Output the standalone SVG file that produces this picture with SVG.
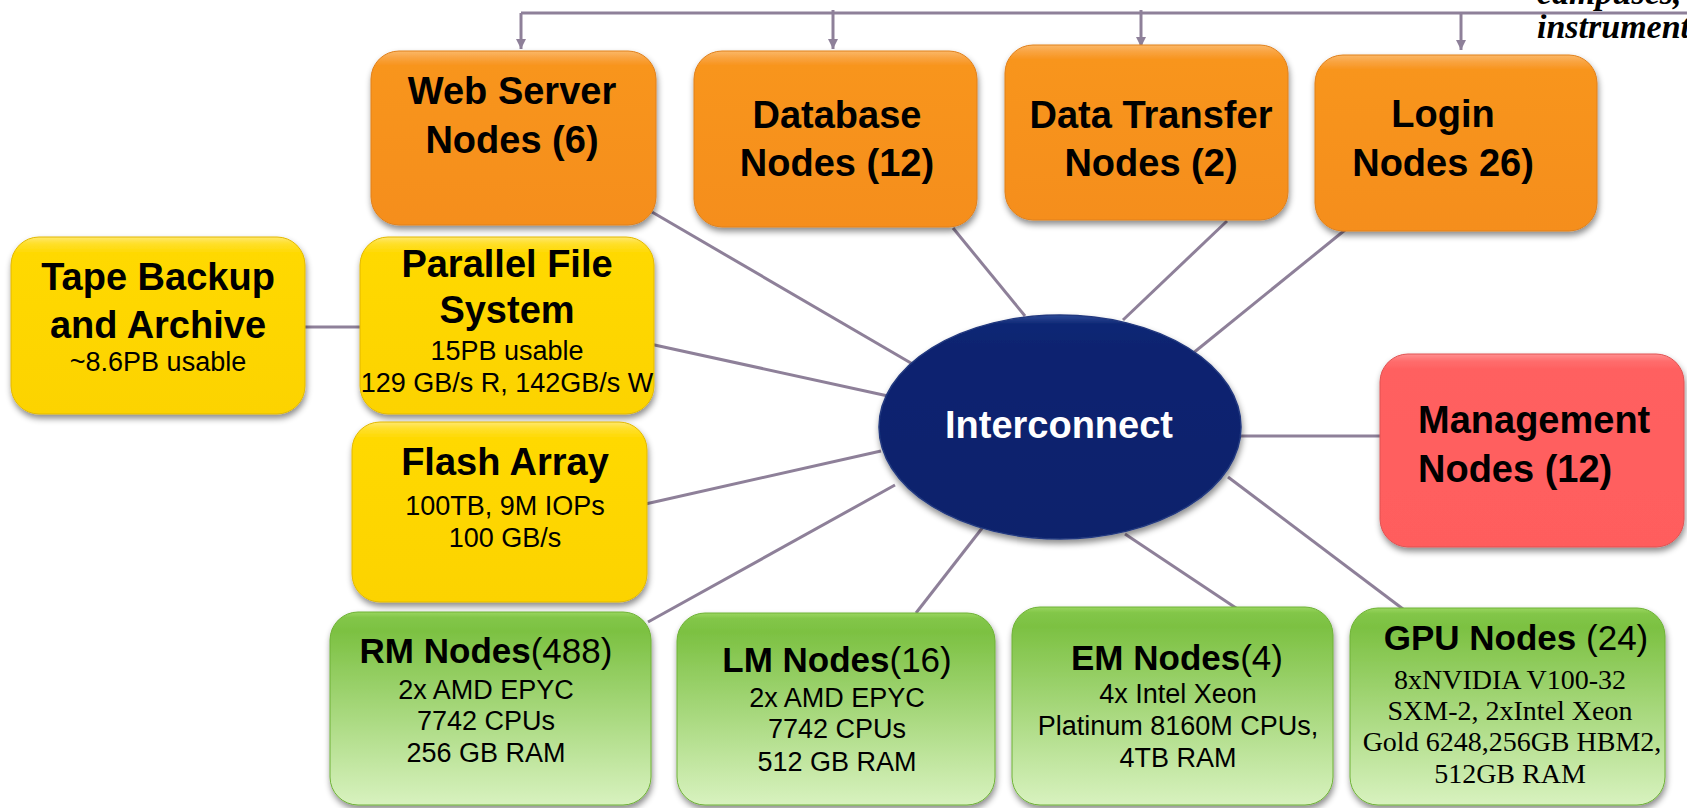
<svg xmlns="http://www.w3.org/2000/svg" width="1687" height="808" viewBox="0 0 1687 808">
  <defs>
    <style>
      .conn { stroke: #8e8099; stroke-width: 3; fill: none; }
      .hd { font-family: "Liberation Sans", Arial, sans-serif; font-weight: bold; font-size: 38px; fill: #000; text-anchor: middle; }
      .sub { font-family: "Liberation Sans", Arial, sans-serif; font-size: 27px; fill: #000; text-anchor: middle; }
      .hd2 { font-family: "Liberation Sans", Arial, sans-serif; font-size: 35px; fill: #000; text-anchor: middle; }
      .hd2 .b { font-weight: bold; }
      .serif { font-family: "Liberation Serif", "Times New Roman", serif; font-size: 28px; fill: #000; text-anchor: middle; }
      .note { font-family: "Liberation Serif", "Times New Roman", serif; font-size: 34px; font-weight: bold; font-style: italic; fill: #000; }
      .orange { fill: url(#gOrange); stroke: #e0801a; stroke-width: 1; }
      .yellow { fill: url(#gYellow); stroke: #e2b800; stroke-width: 1; }
      .red { fill: url(#gRed); stroke: #e05252; stroke-width: 1; }
      .green { fill: url(#gGreen); stroke: #6eb236; stroke-width: 1; }
      .box { filter: url(#shadow); }
    </style>
    <linearGradient id="gOrange" x1="0" y1="0" x2="0" y2="1">
      <stop offset="0" stop-color="#fbb868"/>
      <stop offset="0.035" stop-color="#f9a544"/>
      <stop offset="0.08" stop-color="#f8951f"/>
      <stop offset="1" stop-color="#f58e1c"/>
    </linearGradient>
    <linearGradient id="gYellow" x1="0" y1="0" x2="0" y2="1">
      <stop offset="0" stop-color="#ffe870"/>
      <stop offset="0.035" stop-color="#ffe02e"/>
      <stop offset="0.09" stop-color="#ffd900"/>
      <stop offset="1" stop-color="#fcd300"/>
    </linearGradient>
    <linearGradient id="gRed" x1="0" y1="0" x2="0" y2="1">
      <stop offset="0" stop-color="#ff9090"/>
      <stop offset="0.035" stop-color="#ff6e6e"/>
      <stop offset="0.08" stop-color="#ff6060"/>
      <stop offset="1" stop-color="#ff5d5d"/>
    </linearGradient>
    <linearGradient id="gGreen" x1="0" y1="0" x2="0" y2="1">
      <stop offset="0" stop-color="#9ad660"/>
      <stop offset="0.03" stop-color="#82c648"/>
      <stop offset="0.1" stop-color="#7cc142"/>
      <stop offset="1" stop-color="#d8f2bf"/>
    </linearGradient>
    <linearGradient id="gNavy" x1="0" y1="0" x2="0" y2="1">
      <stop offset="0" stop-color="#2c4a98"/>
      <stop offset="0.04" stop-color="#0f2875"/>
      <stop offset="0.15" stop-color="#0b2370"/>
      <stop offset="1" stop-color="#0b226c"/>
    </linearGradient>
    <filter id="shadow" x="-10%" y="-10%" width="125%" height="130%">
      <feDropShadow dx="1" dy="4" stdDeviation="3" flood-color="#000" flood-opacity="0.45"/>
    </filter>
    <marker id="arrow" viewBox="0 0 10 10" refX="10" refY="5" markerWidth="10" markerHeight="10" markerUnits="userSpaceOnUse" orient="auto">
      <path d="M0,0 L10,5 L0,10 Z" fill="#8e8099"/>
    </marker>
  </defs>

  <rect width="1687" height="808" fill="#ffffff"/>

  <!-- annotation in the top-right corner, running off the page edge -->
  <g id="note">
    <text class="note" x="1537" y="4">campuses,</text>
    <text class="note" x="1537" y="38">instruments</text>
  </g>

  <!-- connectors -->
  <g id="connectors">
    <!-- feed bus along the top -->
    <line class="conn" x1="521" y1="13" x2="1687" y2="13"/>
    <line class="conn" x1="521" y1="13" x2="521" y2="49" marker-end="url(#arrow)"/>
    <line class="conn" x1="833" y1="10" x2="833" y2="49" marker-end="url(#arrow)"/>
    <line class="conn" x1="1141" y1="10" x2="1141" y2="47" marker-end="url(#arrow)"/>
    <line class="conn" x1="1461" y1="13" x2="1461" y2="50" marker-end="url(#arrow)"/>
    <!-- links to the interconnect -->
    <line class="conn" x1="652" y1="212" x2="916" y2="366"/>
    <line class="conn" x1="953" y1="228" x2="1025" y2="316"/>
    <line class="conn" x1="1227" y1="221" x2="1123" y2="320"/>
    <line class="conn" x1="1345" y1="230" x2="1192" y2="354"/>
    <line class="conn" x1="650" y1="344" x2="888" y2="396"/>
    <line class="conn" x1="297" y1="327" x2="361" y2="327"/>
    <line class="conn" x1="641" y1="505" x2="881" y2="451"/>
    <line class="conn" x1="648" y1="622" x2="895" y2="485"/>
    <line class="conn" x1="916" y1="613" x2="983" y2="527"/>
    <line class="conn" x1="1239" y1="610" x2="1125" y2="534"/>
    <line class="conn" x1="1403" y1="609" x2="1228" y2="477"/>
    <line class="conn" x1="1235" y1="436" x2="1381" y2="436"/>
  </g>

  <!-- service nodes -->
  <g id="web-server">
    <rect class="box orange" x="371" y="51" width="285" height="174" rx="28"/>
    <text class="hd" x="512" y="104">Web Server</text>
    <text class="hd" x="512" y="153">Nodes (6)</text>
  </g>
  <g id="database">
    <rect class="box orange" x="694" y="51" width="283" height="176" rx="28"/>
    <text class="hd" x="837" y="128">Database</text>
    <text class="hd" x="837" y="176">Nodes (12)</text>
  </g>
  <g id="data-transfer">
    <rect class="box orange" x="1005" y="45" width="283" height="175" rx="28"/>
    <text class="hd" x="1151" y="128">Data Transfer</text>
    <text class="hd" x="1151" y="176">Nodes (2)</text>
  </g>
  <g id="login">
    <rect class="box orange" x="1315" y="55" width="282" height="176" rx="28"/>
    <text class="hd" x="1443" y="127">Login</text>
    <text class="hd" x="1443" y="176">Nodes 26)</text>
  </g>

  <!-- storage -->
  <g id="tape-backup">
    <rect class="box yellow" x="11" y="237" width="294" height="177" rx="28"/>
    <text class="hd" x="158" y="290">Tape Backup</text>
    <text class="hd" x="158" y="338">and Archive</text>
    <text class="sub" x="158" y="371">~8.6PB usable</text>
  </g>
  <g id="parallel-fs">
    <rect class="box yellow" x="360" y="237" width="294" height="177" rx="28"/>
    <text class="hd" x="507" y="277">Parallel File</text>
    <text class="hd" x="507" y="323">System</text>
    <text class="sub" x="507" y="360">15PB usable</text>
    <text class="sub" x="507" y="392">129 GB/s R, 142GB/s W</text>
  </g>
  <g id="flash-array">
    <rect class="box yellow" x="352" y="422" width="295" height="180" rx="28"/>
    <text class="hd" x="505" y="475">Flash Array</text>
    <text class="sub" x="505" y="515">100TB, 9M IOPs</text>
    <text class="sub" x="505" y="547">100 GB/s</text>
  </g>

  <!-- fabric -->
  <g id="interconnect">
    <ellipse cx="1060" cy="427" rx="181" ry="112" fill="url(#gNavy)" stroke="#22397f" stroke-width="1.5" filter="url(#shadow)"/>
    <text class="hd" x="1059" y="438" style="fill:#ffffff">Interconnect</text>
  </g>

  <!-- management -->
  <g id="management">
    <rect class="box red" x="1380" y="354" width="304" height="193" rx="28"/>
    <text class="hd" x="1418" y="433" style="text-anchor:start">Management</text>
    <text class="hd" x="1418" y="482" style="text-anchor:start">Nodes (12)</text>
  </g>

  <!-- compute -->
  <g id="rm-nodes">
    <rect class="box green" x="330" y="612" width="321" height="193" rx="28"/>
    <text class="hd2" x="486" y="663"><tspan class="b">RM Nodes</tspan>(488)</text>
    <text class="sub" x="486" y="699">2x AMD EPYC</text>
    <text class="sub" x="486" y="730">7742 CPUs</text>
    <text class="sub" x="486" y="762">256 GB RAM</text>
  </g>
  <g id="lm-nodes">
    <rect class="box green" x="677" y="613" width="318" height="192" rx="28"/>
    <text class="hd2" x="837" y="672"><tspan class="b">LM Nodes</tspan>(16)</text>
    <text class="sub" x="837" y="707">2x AMD EPYC</text>
    <text class="sub" x="837" y="738">7742 CPUs</text>
    <text class="sub" x="837" y="771">512 GB RAM</text>
  </g>
  <g id="em-nodes">
    <rect class="box green" x="1012" y="607" width="321" height="198" rx="28"/>
    <text class="hd2" x="1177" y="670"><tspan class="b">EM Nodes</tspan>(4)</text>
    <text class="sub" x="1178" y="703">4x Intel Xeon</text>
    <text class="sub" x="1178" y="735">Platinum 8160M CPUs,</text>
    <text class="sub" x="1178" y="767">4TB RAM</text>
  </g>
  <g id="gpu-nodes">
    <rect class="box green" x="1350" y="608" width="315" height="197" rx="28"/>
    <text class="hd2" x="1516" y="650"><tspan class="b">GPU Nodes</tspan> (24)</text>
    <text class="serif" x="1510" y="689">8xNVIDIA V100-32</text>
    <text class="serif" x="1510" y="720">SXM-2, 2xIntel Xeon</text>
    <text class="serif" x="1512" y="751">Gold 6248,256GB HBM2,</text>
    <text class="serif" x="1510" y="783">512GB RAM</text>
  </g>
</svg>
